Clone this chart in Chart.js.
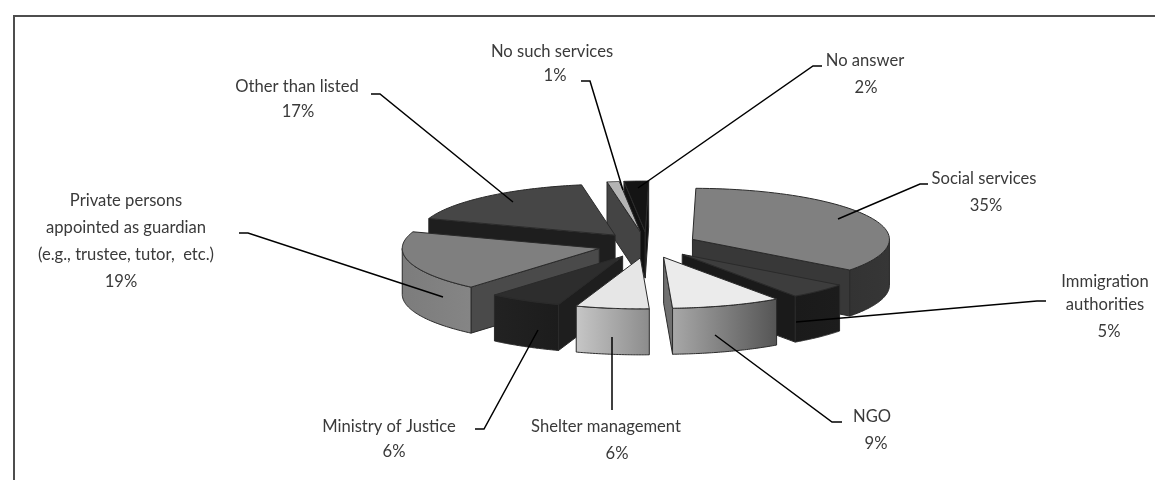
<!DOCTYPE html>
<html>
<head>
<meta charset="utf-8">
<title>Guardianship services</title>
<script src="https://cdn.jsdelivr.net/npm/chart.js@4/dist/chart.umd.min.js"></script>
<style>
  html, body { margin: 0; padding: 0; background: #fff; }
  canvas { display: block; }
</style>
</head>
<body>
<canvas id="pieChart" width="1155" height="480"></canvas>
<script>
// --- data ---
const sliceLabels = ['Social services', 'Immigration authorities', 'NGO', 'Shelter management', 'Ministry of Justice',
    'Private persons appointed as guardian (e.g., trustee, tutor, etc.)', 'Other than listed', 'No such services', 'No answer'];
const sliceValues = [35, 5, 9, 6, 6, 19, 17, 1, 2];

// --- shades per slice ---
const topShades = ['#808080', '#3d3d3d', '#ebebeb', '#e6e6e6', '#2d2d2d', '#7f7f7f', '#464646', '#b4b4b4', '#141414'];
const sideShades = ['#383838', '#1a1a1a', '#707070', '#bbbbbb', '#1e1e1e', '#4a4a4a', '#1e1e1e', '#444444', '#111111'];
const rimLeftShades = ['#333333', '#1a1a1a', '#a8a8a8', '#c6c6c6', '#222222', '#7c7c7c', '#1f1f1f', '#aaaaaa', '#111111'];
const rimRightShades = ['#363636', '#1c1c1c', '#555555', '#8c8c8c', '#1c1c1c', '#858585', '#1f1f1f', '#aaaaaa', '#111111'];

// --- tilt of the pie ---
const TILT = 0.259;     // vertical squash of the circle
const DEPTH = 46;       // wall height
const EXPLODE = 50;     // how far each slice is pulled out

// --- callout text: [x, y] of each line, the value line is last ---
const calloutLines = [
    ['Social services'],
    ['Immigration', 'authorities'],
    ['NGO'],
    ['Shelter management'],
    ['Ministry of Justice'],
    ['Private persons', 'appointed as guardian', '(e.g., trustee, tutor,  etc.)'],
    ['Other than listed'],
    ['No such services'],
    ['No answer']
];
const calloutSpots = [
    [[984, 179], [986, 206]],
    [[1105, 282], [1105, 305], [1109, 332]],
    [[872, 417], [876, 444]],
    [[606, 427], [617, 454]],
    [[389, 427], [394, 452]],
    [[126, 201], [126, 228], [126, 255], [121, 282]],
    [[297, 87], [298, 112]],
    [[552, 52], [555, 76]],
    [[865, 61], [866, 88]]
];
const leaderPaths = [
    [[928, 184], [920, 184], [838, 219]],
    [[1046, 301], [1037, 301], [796, 322]],
    [[842, 422], [832, 422], [715, 335]],
    [[612, 410], [612, 337]],
    [[475, 429], [484, 429], [538, 330]],
    [[239, 233], [248, 233], [443, 297]],
    [[371, 94], [380, 94], [513, 202]],
    [[581, 81], [590, 81], [623, 190]],
    [[822, 66], [813, 66], [638, 188]]
];

// a point on the tilted plane, relative to the arc centre
function onPlane(arc, radius, angle, shift) {
    return {
        x: arc.x + shift.x + Math.cos(angle) * radius,
        y: arc.y + shift.y + Math.sin(angle) * radius * TILT
    };
}

function fillPolygon(ctx, pts, fill) {
    ctx.beginPath();
    pts.forEach((p, i) => i ? ctx.lineTo(p.x, p.y) : ctx.moveTo(p.x, p.y));
    ctx.closePath();
    ctx.fillStyle = fill;
    ctx.fill();
    ctx.stroke();
}

function drawRadialWall(ctx, arc, angle, shift, fill) {
    const inner = onPlane(arc, 0, angle, shift);
    const outer = onPlane(arc, arc.outerRadius, angle, shift);
    fillPolygon(ctx, [inner, outer, { x: outer.x, y: outer.y + DEPTH }, { x: inner.x, y: inner.y + DEPTH }], fill);
}

function drawRimWall(ctx, arc, shift, i) {
    // only the part of the rim between 3 and 9 o'clock faces the viewer
    const from = Math.max(arc.startAngle, 0);
    const to = Math.min(arc.endAngle, Math.PI);
    if (to <= from) return;
    const upper = [];
    for (let n = 0; n <= 48; n++) {
        upper.push(onPlane(arc, arc.outerRadius, from + (to - from) * n / 48, shift));
    }
    const lower = upper.map(p => ({ x: p.x, y: p.y + DEPTH })).reverse();
    const xs = upper.map(p => p.x);
    const grad = ctx.createLinearGradient(Math.min(...xs), 0, Math.max(...xs), 0);
    grad.addColorStop(0, rimLeftShades[i]);
    grad.addColorStop(1, rimRightShades[i]);
    fillPolygon(ctx, upper.concat(lower), grad);
}

function drawSlice(ctx, arc, i, shift) {
    ctx.lineWidth = 1;
    ctx.strokeStyle = '#2a2a2a';
    ctx.lineJoin = 'round';

    if (Math.cos(arc.startAngle) < 0) drawRadialWall(ctx, arc, arc.startAngle, shift, sideShades[i]);
    if (Math.cos(arc.endAngle) > 0) drawRadialWall(ctx, arc, arc.endAngle, shift, sideShades[i]);
    drawRimWall(ctx, arc, shift, i);

    // top face: the library's own arc under a squashed transform
    ctx.save();
    ctx.translate(arc.x + shift.x, arc.y + shift.y);
    ctx.scale(1, TILT);
    ctx.translate(-arc.x, -arc.y);
    arc.draw(ctx);
    ctx.restore();

    // outline stroked outside the transform so the line keeps an even width
    ctx.beginPath();
    const apex = onPlane(arc, 0, 0, shift);
    ctx.moveTo(apex.x, apex.y);
    for (let n = 0; n <= 64; n++) {
        const p = onPlane(arc, arc.outerRadius, arc.startAngle + (arc.endAngle - arc.startAngle) * n / 64, shift);
        ctx.lineTo(p.x, p.y);
    }
    ctx.closePath();
    ctx.stroke();
}

const tiltedPie = {
    id: 'tiltedPie',
    beforeDraw(chart) {
        // frame, open on the right and at the bottom
        const ctx = chart.ctx;
        ctx.save();
        ctx.strokeStyle = '#4d4d4d';
        ctx.lineWidth = 2;
        ctx.beginPath();
        ctx.moveTo(14, 480);
        ctx.lineTo(14, 16);
        ctx.lineTo(1155, 16);
        ctx.stroke();
        ctx.restore();
    },
    beforeDatasetsDraw(chart) {
        const ctx = chart.ctx;
        const arcs = chart.getDatasetMeta(0).data;
        const slices = arcs.map((arc, i) => {
            const mid = (arc.startAngle + arc.endAngle) / 2;
            return { arc, i, shift: { x: Math.cos(mid) * EXPLODE, y: Math.sin(mid) * EXPLODE * TILT } };
        });
        // back to front
        slices.sort((a, b) => a.shift.y - b.shift.y);
        ctx.save();
        slices.forEach(s => drawSlice(ctx, s.arc, s.i, s.shift));
        ctx.restore();
        return false;
    },
    afterDraw(chart) {
        const ctx = chart.ctx;
        ctx.save();

        ctx.strokeStyle = '#000000';
        ctx.lineWidth = 1.5;
        leaderPaths.forEach(path => {
            ctx.beginPath();
            path.forEach((p, i) => i ? ctx.lineTo(p[0], p[1]) : ctx.moveTo(p[0], p[1]));
            ctx.stroke();
        });

        ctx.fillStyle = '#3a3a3a';
        ctx.font = '16.6px Lato';
        ctx.textAlign = 'center';
        ctx.textBaseline = 'middle';
        calloutLines.forEach((lines, i) => {
            const texts = lines.concat(sliceValues[i] + '%');
            texts.forEach((t, n) => ctx.fillText(t, calloutSpots[i][n][0], calloutSpots[i][n][1]));
        });
        ctx.restore();
    }
};

new Chart(document.getElementById('pieChart'), {
    type: 'pie',
    data: {
        labels: sliceLabels,
        datasets: [{
            data: sliceValues,
            backgroundColor: topShades,
            borderWidth: 0,
            radius: 197
        }]
    },
    options: {
        responsive: false,
        animation: false,
        rotation: 1,
        layout: { padding: { left: 140, top: 10 } },
        plugins: {
            legend: { display: false },
            tooltip: { enabled: false },
            title: { display: false }
        }
    },
    plugins: [tiltedPie]
});
</script>
</body>
</html>
